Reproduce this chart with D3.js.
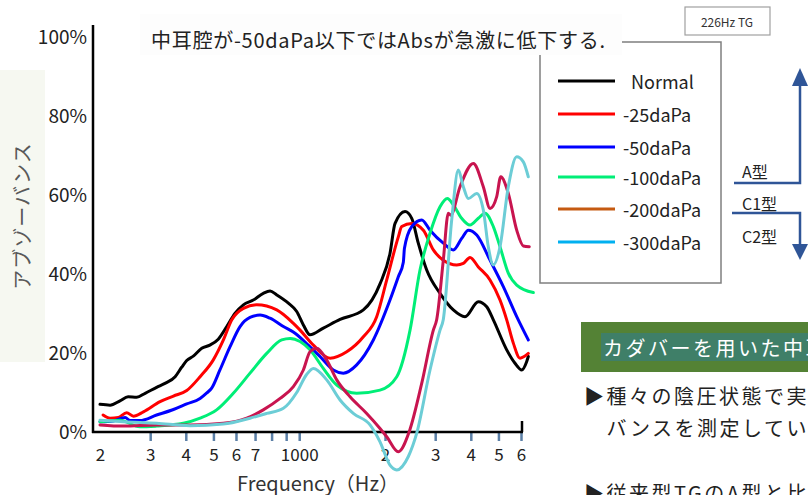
<html>
<meta charset="utf-8">
<script src="https://d3js.org/d3.v7.min.js"></script>
<style>
body{ margin:0; background:white; overflow:hidden; }
svg text{ font-family:"Noto Sans CJK JP","Noto Sans",sans-serif; }
.curve{ fill:none; stroke-width:3; stroke-linejoin:round; stroke-linecap:round; }
</style>
<body>
<div id="chartDiv"></div>
<script>
// frequency (Hz), absorbance (%)
var normalData = [[200,7.0],[217,6.8],[235,7.9],[251,8.9],[269,8.8],[288,9.8],[316,11.3],[338,12.3],[367,14.0],[387,16.4],[403,18.1],[425,19.2],[455,21.2],[486,22.0],[520,23.5],[557,26.7],[595,30.0],[637,32.2],[690,33.4],[748,35.1],[790,35.7],[834,34.7],[916,32.6],[980,30.5],[1034,27.1],[1091,24.6],[1215,26.3],[1391,28.5],[1679,30.9],[1921,37.5],[2082,45.2],[2169,52.8],[2351,55.8],[2482,54.1],[2617,47.8],[2801,41.0],[3119,35.1],[3473,30.9],[3817,29.2],[4250,33.0],[4548,31.7],[4798,28.4],[5346,20.8],[5717,17.4],[6035,15.7],[6280,17.8],[6365,19.1]];
var minus25Data = [[205,4.3],[217,3.5],[232,3.7],[248,4.9],[262,4.0],[284,5.1],[325,7.7],[362,9.1],[403,10.5],[449,14.0],[499,18.2],[542,23.3],[580,28.4],[637,31.3],[709,32.2],[834,30.9],[954,27.5],[1007,25.8],[1121,22.0],[1283,18.7],[1468,20.3],[1679,24.1],[1870,29.2],[2028,38.5],[2227,49.4],[2289,52.0],[2482,52.8],[2726,51.1],[2955,46.1],[3203,43.5],[3570,42.3],[3765,42.7],[3974,44.2],[4250,41.8],[4671,38.5],[5064,33.4],[5346,28.4],[5639,22.5],[5953,18.7],[6365,19.9]];
var minus50Data = [[200,2.6],[223,2.8],[245,3.7],[255,2.9],[276,2.9],[316,4.3],[362,5.7],[403,7.1],[449,8.5],[474,9.9],[493,11.1],[527,15.7],[572,21.6],[620,26.7],[672,29.0],[729,29.6],[790,28.8],[880,26.7],[967,25.0],[1076,22.0],[1183,19.1],[1317,15.7],[1428,14.9],[1591,17.0],[1820,23.3],[2082,33.4],[2227,39.3],[2319,43.0],[2340,46.5],[2482,52.0],[2691,53.7],[2877,51.1],[3203,47.8],[3473,46.1],[3716,49.0],[3920,51.1],[4196,49.9],[4671,43.5],[5201,36.8],[5796,29.2],[6365,23.3]];
var minus100Data = [[200,2.6],[235,3.0],[276,1.3],[316,1.5],[392,2.2],[449,3.5],[513,5.6],[587,9.8],[672,14.9],[769,19.9],[868,23.3],[929,23.7],[1007,22.9],[1091,20.8],[1215,16.1],[1354,11.9],[1591,9.8],[1921,10.6],[2199,14.0],[2448,25.8],[2653,41.0],[2877,50.3],[3119,57.0],[3309,59.1],[3473,57.5],[3716,54.1],[3974,52.4],[4250,54.1],[4487,55.4],[4798,52.0],[5064,46.9],[5415,40.2],[5796,37.2],[6628,35.3]];
var minus200Data = [[200,1.8],[242,1.5],[316,1.8],[414,1.8],[541,2.2],[654,3.5],[748,5.6],[857,8.5],[954,11.5],[1034,15.7],[1091,20.3],[1152,21.2],[1249,18.2],[1354,13.2],[1508,8.9],[1725,4.7],[1921,0.9],[2028,-1.2],[2227,-5.0],[2430,0.0],[2690,12.3],[2955,25.8],[3037,28.5],[3203,43.5],[3335,55.4],[3401,54.9],[3666,62.1],[4082,68.0],[4425,62.1],[4671,56.6],[4931,59.6],[5093,64.6],[5415,60.4],[5796,51.1],[6114,47.1],[6417,46.9]];
var minus300Data = [[200,3.0],[242,2.6],[316,2.2],[414,1.6],[541,2.0],[672,3.5],[769,4.7],[880,6.0],[980,10.0],[1060,14.5],[1121,16.1],[1249,13.2],[1391,8.1],[1548,4.7],[1772,1.8],[1921,-2.5],[2082,-8.4],[2199,-9.6],[2415,-6.2],[2584,-0.3],[2877,15.7],[3119,25.8],[3203,28.5],[3428,53.7],[3616,66.3],[3765,62.1],[3920,59.1],[4196,60.4],[4425,56.2],[4607,46.9],[4798,42.3],[5064,46.9],[5415,62.1],[5796,69.7],[6114,68.4],[6365,64.6]];

var seriesNames = ["Normal","-25daPa","-50daPa","-100daPa","-200daPa","-300daPa"];
var seriesData = [normalData, minus25Data, minus50Data, minus100Data, minus200Data, minus300Data];
var lineColors = ["#000000","#ff0000","#0000ff","#00ee77","#c8144f","#6ccdd6"];
var legendColors = ["#000000","#ff0000","#0000ff","#00ee77","#c55a11","#00b0f0"];

var xTickValues = [200,300,400,500,600,700,800,900,1000,2000,3000,4000,5000,6000];
var xTickLabels = ["2","3","4","5","6","7","","","1000","2","3","4","5","6"];
var yTickValues = [0,20,40,60,80,100];

var titleText = "中耳腔が-50daPa以下ではAbsが急激に低下する.";
var typeLabels = ["A型","C1型","C2型"];
var sideHeader = "カダバーを用いた中耳";
var sideLines = ["▶種々の陰圧状態で実験","　バンスを測定していま","▶従来型TGのA型と比較"];

var width = 808, height = 495;
var svg = d3.select("#chartDiv").append("svg").attr("width",width).attr("height",height);

var x = d3.scaleLog().domain([200,6000]).range([100,521]);
var y = d3.scaleLinear().domain([0,100]).range([432,37]);

// y title background
svg.append("rect").attr("x",0).attr("y",70).attr("width",45).attr("height",292).attr("fill","#f6f8f1");
svg.append("text")
  .attr("transform","translate(21,216) rotate(-90)")
  .attr("text-anchor","middle").attr("dominant-baseline","central")
  .style("font-size","20px").style("letter-spacing","1px").attr("fill","#595959")
  .text("アブゾーバンス");

// y axis labels
var yAxis = d3.axisLeft(y).tickValues(yTickValues).tickSize(0).tickPadding(6)
  .tickFormat(function(d){ return d + "%"; });
var yG = svg.append("g").attr("transform","translate(93,0)").call(yAxis);
yG.select(".domain").remove();
yG.selectAll("text").style("font-size","19px").attr("fill","#222");

// x axis ticks and labels
var xAxis = d3.axisBottom(x).tickValues(xTickValues).tickSize(9)
  .tickFormat(function(d,i){ return xTickLabels[i]; });
var xG = svg.append("g").attr("transform","translate(0,432)").call(xAxis);
xG.select(".domain").remove();
xG.selectAll("line").attr("stroke","#5b7fa6").attr("stroke-width",2.5)
  .style("opacity",function(d){ return d == 200 ? 0 : 1; });
xG.selectAll("text").attr("y",17).style("font-size","17px").attr("fill","#222");

svg.append("line").attr("x1",93).attr("x2",93).attr("y1",25).attr("y2",433).attr("stroke","black").attr("stroke-width",2.5);
svg.append("line").attr("x1",92).attr("x2",523).attr("y1",432).attr("y2",432).attr("stroke","black").attr("stroke-width",2.5);
svg.append("line").attr("x1",522).attr("x2",522).attr("y1",421).attr("y2",432).attr("stroke","black").attr("stroke-width",2.5);

svg.append("text").attr("x",318).attr("y",482).attr("text-anchor","middle").attr("dominant-baseline","central")
  .style("font-size","20px").attr("fill","#333").text("Frequency（Hz）");

// curves
var line = d3.line()
  .x(function(d){ return x(d[0]); })
  .y(function(d){ return y(d[1]); })
  .curve(d3.curveMonotoneX);

svg.selectAll(".curve").data(seriesData).enter()
  .append("path").attr("class","curve")
  .attr("d", line)
  .attr("stroke", function(d,i){ return lineColors[i]; });

// legend box
svg.append("rect").attr("x",540).attr("y",42).attr("width",181).attr("height",241)
  .attr("fill","white").attr("stroke","#7f7f7f").attr("stroke-width",1.5);
var legendYs = [81,114,147,177,209,242];
var legendG = svg.selectAll(".legendItem").data(seriesNames).enter().append("g").attr("class","legendItem");
legendG.append("line")
  .attr("x1",558).attr("x2",615)
  .attr("y1",function(d,i){ return legendYs[i]; }).attr("y2",function(d,i){ return legendYs[i]; })
  .attr("stroke",function(d,i){ return legendColors[i]; }).attr("stroke-width",3);
legendG.append("text")
  .attr("x",function(d,i){ return i == 0 ? 631 : 623; })
  .attr("y",function(d,i){ return legendYs[i]; })
  .attr("dominant-baseline","central").style("font-size","18px").attr("fill","#222")
  .text(function(d){ return d; });

// title
svg.append("rect").attr("x",140).attr("y",14).attr("width",482).attr("height",41).attr("fill","#fdfdfd");
svg.append("text").attr("x",151).attr("y",39).attr("dominant-baseline","central")
  .attr("textLength",454).attr("lengthAdjust","spacing")
  .style("font-size","20px").attr("fill","#222").text(titleText);

// 226Hz TG box
svg.append("rect").attr("x",685).attr("y",7).attr("width",85).attr("height",28)
  .attr("fill","white").attr("stroke","#a0a0a0").attr("stroke-width",1.2);
svg.append("text").attr("x",727).attr("y",21).attr("text-anchor","middle").attr("dominant-baseline","central")
  .style("font-size","12px").attr("fill","#333").text("226Hz TG");

// type arrows
var arrowCol = "#2f5597";
svg.append("path").attr("d","M734,183 H800 V84").attr("fill","none").attr("stroke",arrowCol).attr("stroke-width",2.5);
svg.append("path").attr("d","M792,86 L800,68 L808,86 Z").attr("fill",arrowCol);
svg.append("path").attr("d","M732,213 H800 V246").attr("fill","none").attr("stroke",arrowCol).attr("stroke-width",2.5);
svg.append("path").attr("d","M792,244 L800,260 L808,244 Z").attr("fill",arrowCol);
var typeYs = [171,203,236];
svg.selectAll(".typeLabel").data(typeLabels).enter().append("text").attr("class","typeLabel")
  .attr("x",742).attr("y",function(d,i){ return typeYs[i]; })
  .attr("dominant-baseline","central").style("font-size","16px").attr("fill","#222")
  .text(function(d){ return d; });

// side panel
svg.append("rect").attr("x",581).attr("y",322).attr("width",227).attr("height",50).attr("fill","#548235");
svg.append("rect").attr("x",601).attr("y",333).attr("width",207).attr("height",28).attr("fill","#3f7f68");
svg.append("text").attr("x",603).attr("y",347).attr("dominant-baseline","central")
  .style("font-size","20px").style("letter-spacing","2.5px").attr("fill","white").text(sideHeader);
var sideYs = [395,427,492];
svg.selectAll(".sideLine").data(sideLines).enter().append("text").attr("class","sideLine")
  .attr("x",584).attr("y",function(d,i){ return sideYs[i]; })
  .attr("dominant-baseline","central").style("font-size","20px").style("letter-spacing","2.5px").attr("fill","#222")
  .text(function(d){ return d; });
</script>
</body>
</html>
